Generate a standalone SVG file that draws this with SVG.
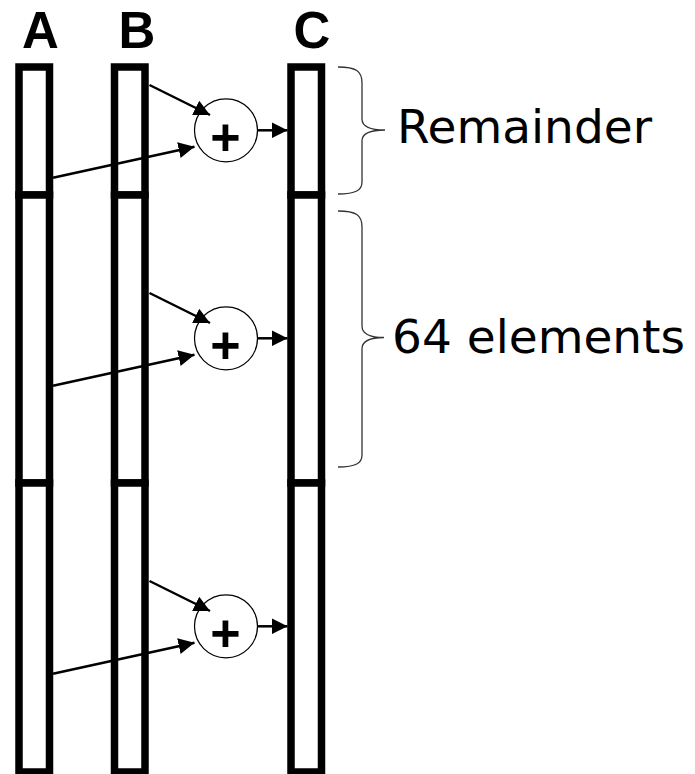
<svg xmlns="http://www.w3.org/2000/svg" width="695" height="774" viewBox="0 0 695 774">
  <style>
    .col { fill: #fff; stroke: #000; stroke-width: 7.5; }
    .hdr { font-family: "Liberation Sans", Arial, sans-serif; font-weight: bold; font-size: 51px; text-anchor: middle; fill: #000; }
    .add { fill: #fff; stroke: #000; stroke-width: 1.2; }
    .plus { font-family: "Liberation Sans", Arial, sans-serif; font-weight: bold; font-size: 52px; text-anchor: middle; fill: #000; }
    .wire { stroke: #000; stroke-width: 2.5; fill: none; marker-end: url(#head); }
    .brace { stroke: #333; stroke-width: 1.3; fill: none; }
    .lbl { font-family: "DejaVu Sans", Verdana, sans-serif; font-size: 47px; fill: #000; }
  </style>
  <defs>
    <marker id="head" markerUnits="userSpaceOnUse" markerWidth="17" markerHeight="16" refX="16" refY="8" orient="auto">
      <path d="M0,0 L16,8 L0,16 z" fill="#000"/>
    </marker>
  </defs>

  <!-- column headers -->
  <text class="hdr" x="40.5" y="48">A</text>
  <text class="hdr" x="137" y="48">B</text>
  <text class="hdr" x="312" y="48">C</text>

  <!-- array A: remainder block + two 64-element blocks -->
  <g id="colA">
    <rect class="col" x="19" y="67" width="30.5" height="128"/>
    <rect class="col" x="19" y="195" width="30.5" height="288"/>
    <rect class="col" x="19" y="483" width="30.5" height="289"/>
  </g>
  <!-- array B -->
  <g id="colB">
    <rect class="col" x="114.5" y="67" width="30.5" height="128"/>
    <rect class="col" x="114.5" y="195" width="30.5" height="288"/>
    <rect class="col" x="114.5" y="483" width="30.5" height="289"/>
  </g>
  <!-- array C -->
  <g id="colC">
    <rect class="col" x="291" y="67" width="30.5" height="128"/>
    <rect class="col" x="291" y="195" width="30.5" height="288"/>
    <rect class="col" x="291" y="483" width="30.5" height="289"/>
  </g>

  <!-- adders -->
  <g id="add1">
    <circle class="add" cx="226" cy="130.3" r="31.5"/>
    <text class="plus" x="225.5" y="155">+</text>
  </g>
  <g id="add2" transform="translate(0,208)">
    <circle class="add" cx="226" cy="130.3" r="31.5"/>
    <text class="plus" x="225.5" y="155">+</text>
  </g>
  <g id="add3" transform="translate(0,496)">
    <circle class="add" cx="226" cy="130.3" r="31.5"/>
    <text class="plus" x="225.5" y="155">+</text>
  </g>

  <!-- connectors -->
  <g id="connectors">
    <g>
      <line class="wire" x1="149.5" y1="85" x2="210" y2="115"/>
      <line class="wire" x1="53" y1="177.7" x2="194.5" y2="146.7"/>
      <line class="wire" x1="257.5" y1="130.3" x2="287.5" y2="130.3"/>
    </g>
    <g transform="translate(0,208)">
      <line class="wire" x1="149.5" y1="85" x2="210" y2="115"/>
      <line class="wire" x1="53" y1="177.7" x2="194.5" y2="146.7"/>
      <line class="wire" x1="257.5" y1="130.3" x2="287.5" y2="130.3"/>
    </g>
    <g transform="translate(0,496)">
      <line class="wire" x1="149.5" y1="85" x2="210" y2="115"/>
      <line class="wire" x1="53" y1="177.7" x2="194.5" y2="146.7"/>
      <line class="wire" x1="257.5" y1="130.3" x2="287.5" y2="130.3"/>
    </g>
  </g>

  <!-- braces and their labels -->
  <g id="remainder">
    <path class="brace" d="M338,67 C356,67 362,71 362,83 L362,119 C362,126 368,130 385,130 C368,130 362,134 362,141 L362,182 C362,190 356,194 338,194"/>
    <text class="lbl" x="397" y="143.3">Remainder</text>
  </g>
  <g id="block64">
    <path class="brace" d="M338,211 C356,211 362,215 362,227 L362,326 C362,333 368,337.5 384,337.5 C368,337.5 362,342 362,349 L362,455 C362,463 356,467 338,467"/>
    <text class="lbl" x="392" y="353.3">64 elements</text>
  </g>
</svg>
